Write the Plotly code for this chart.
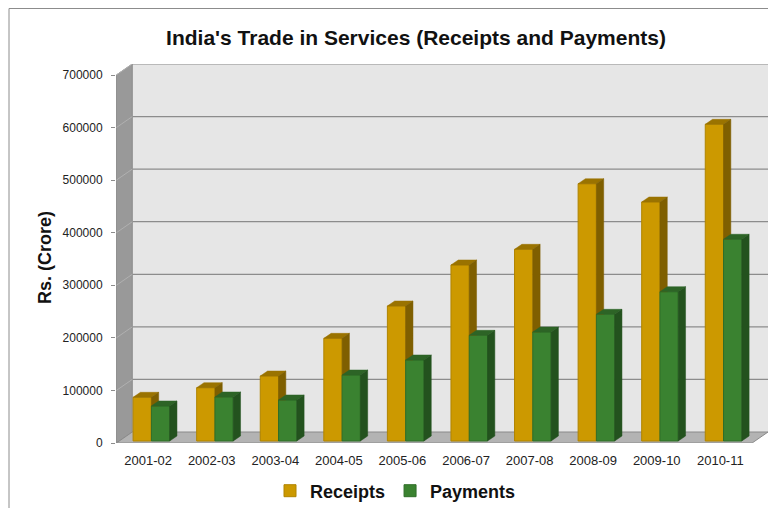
import plotly.graph_objects as go

# ---- data ----
categories = ["2001-02", "2002-03", "2003-04", "2004-05", "2005-06",
              "2006-07", "2007-08", "2008-09", "2009-10", "2010-11"]
receipts = [83100, 101400, 123600, 195300, 256800, 334800, 364600, 489400, 454600, 602400]
payments = [66600, 83700, 78000, 125500, 154100, 201000, 207300, 241000, 284000, 383700]
y_tick_values = [0, 100000, 200000, 300000, 400000, 500000, 600000, 700000]
y_tick_labels = [str(v) for v in y_tick_values]

# ---- 3D-look geometry (axis units) ----
N = len(categories)
Y_MAX = 700000
PLOT_H = 379                      # px
FRONT_H = 368                     # px for 0..Y_MAX on the front axis
Y_TOP = Y_MAX * PLOT_H / FRONT_H
WALL_DY = Y_TOP - Y_MAX           # depth offset of back wall (value units)
WALL_DX = 0.25                    # depth offset of back wall (category units)
PX_PER_VAL = FRONT_H / Y_MAX
BAR_W = 0.2875
R_OFF = -0.237
P_OFF = R_OFF + BAR_W
BASE = 2 / PX_PER_VAL             # bars stand a little back on the floor
DXB = 0.115                       # bar depth (x)
DYB = 5 / PX_PER_VAL              # bar depth (y)
X_LO, X_HI = -0.5, N - 0.5

R_FRONT, R_TOP, R_SIDE, R_EDGE = "#CC9900", "#9A7300", "#7F5F00", "#B08400"
P_FRONT, P_TOP, P_SIDE, P_EDGE = "#3A8230", "#2D6426", "#23521E", "#2F6E28"

# page has an 8px body margin: figure is 770x500 placed at (8, 8)
W, H = 770, 500
ML, MT = 108, 56
PW, PH = 652, 379


def px_x(page_x):
    return (page_x - 8 - ML) / PW


def px_y(page_y):
    return (MT + PH - (page_y - 8)) / PH


fig = go.Figure()

fig.add_trace(go.Bar(
    name="Receipts", x=list(range(N)), y=receipts, base=BASE,
    offset=R_OFF, width=BAR_W,
    marker=dict(color=R_FRONT, line=dict(color=R_EDGE, width=1)),
))
fig.add_trace(go.Bar(
    name="Payments", x=list(range(N)), y=payments, base=BASE,
    offset=P_OFF, width=BAR_W,
    marker=dict(color=P_FRONT, line=dict(color=P_EDGE, width=1)),
))


def top_faces(vals, off):
    xs, ys = [], []
    for i, v in enumerate(vals):
        xl = i + off
        xr = xl + BAR_W
        yt = BASE + v
        xs += [xl, xr, xr + DXB, xl + DXB, xl, None]
        ys += [yt, yt, yt + DYB, yt + DYB, yt, None]
    return xs, ys


def side_faces(vals, off, hide=None):
    xs, ys = [], []
    for i, v in enumerate(vals):
        xr = i + off + BAR_W
        yt = BASE + v
        yb = BASE
        if hide is not None:
            yb = min(BASE + hide[i], yt)
            if yb >= yt:
                continue
        xs += [xr, xr, xr + DXB, xr + DXB, xr, None]
        if hide is None:
            ys += [yb, yt, yt + DYB, yb + DYB, yb, None]
        else:
            ys += [yb, yt, yt + DYB, yb, yb, None]
    return xs, ys


for (xs, ys), col in [
    (top_faces(receipts, R_OFF), R_TOP),
    (side_faces(receipts, R_OFF, hide=payments), R_SIDE),
    (top_faces(payments, P_OFF), P_TOP),
    (side_faces(payments, P_OFF), P_SIDE),
]:
    fig.add_trace(go.Scatter(
        x=xs, y=ys, mode="lines", fill="toself", fillcolor=col,
        line=dict(color=col, width=0.5), showlegend=False, hoverinfo="skip",
    ))

# ---- walls, floor and gridlines ----
shapes = []
shapes.append(dict(type="rect", xref="x", yref="y", layer="below",
                   x0=X_LO + WALL_DX, x1=X_HI + WALL_DX, y0=WALL_DY, y1=Y_MAX + WALL_DY,
                   fillcolor="#E6E6E6", line=dict(width=0)))
shapes.append(dict(type="path", xref="x", yref="y", layer="below",
                   path=f"M{X_LO},0 L{X_LO},{Y_MAX} L{X_LO + WALL_DX},{Y_MAX + WALL_DY} "
                        f"L{X_LO + WALL_DX},{WALL_DY} Z",
                   fillcolor="#999999", line=dict(color="#8A8A8A", width=1)))
shapes.append(dict(type="path", xref="x", yref="y", layer="below",
                   path=f"M{X_LO},0 L{X_HI},0 L{X_HI + WALL_DX},{WALL_DY} "
                        f"L{X_LO + WALL_DX},{WALL_DY} Z",
                   fillcolor="#B3B3B3", line=dict(color="#8A8A8A", width=1)))
for v in y_tick_values[1:]:
    shapes.append(dict(type="line", xref="x", yref="y", layer="below",
                       x0=X_LO + WALL_DX, x1=X_HI + WALL_DX, y0=v + WALL_DY, y1=v + WALL_DY,
                       line=dict(color="#8C8C8C", width=1.2)))
    shapes.append(dict(type="line", xref="x", yref="y", layer="below",
                       x0=X_LO, x1=X_LO + WALL_DX, y0=v, y1=v + WALL_DY,
                       line=dict(color="#B0B0B0", width=1)))
# outer chart border (left and top)
top_line = (MT + PH - 0.5) / PH
shapes.append(dict(type="line", xref="paper", yref="paper",
                   x0=px_x(9), x1=px_x(9), y0=-0.2, y1=top_line,
                   line=dict(color="#8C8C8C", width=1)))
shapes.append(dict(type="line", xref="paper", yref="paper",
                   x0=px_x(9), x1=px_x(768), y0=top_line, y1=top_line,
                   line=dict(color="#8C8C8C", width=1)))

fig.update_layout(
    width=W, height=H,
    margin=dict(l=ML, r=W - ML - PW, t=MT, b=H - MT - PH, autoexpand=False),
    paper_bgcolor="white", plot_bgcolor="white",
    barmode="overlay",
    font=dict(family="Liberation Sans, Arial, sans-serif", color="#1A1A1A"),
    shapes=shapes,
    title=dict(text="India's Trade in Services (Receipts and Payments)",
               x=(416 - 8) / W, xanchor="center", y=1 - (38 - 8) / H, yanchor="middle",
               font=dict(size=21, weight="bold", color="#111111")),
    showlegend=True,
    legend=dict(orientation="h", x=px_x(270), xanchor="left",
                y=px_y(491), yanchor="middle",
                font=dict(size=18, weight="bold", color="#111111"),
                bgcolor="rgba(0,0,0,0)", itemwidth=30),
    annotations=[dict(text="Rs. (Crore)", xref="paper", yref="paper",
                      x=px_x(45), y=px_y(258), textangle=-90,
                      xanchor="center", yanchor="middle", showarrow=False,
                      font=dict(size=18, weight="bold", color="#111111"))],
)
fig.update_xaxes(range=[X_LO - 0.006, X_HI + WALL_DX], tickvals=list(range(N)),
                 ticktext=categories, showgrid=False, zeroline=False, showline=False,
                 ticks="", ticklabelstandoff=8,
                 tickfont=dict(size=13, color="#222222"), fixedrange=True)
fig.update_yaxes(range=[0, Y_TOP], tickvals=y_tick_values, ticktext=y_tick_labels,
                 showgrid=False, zeroline=False, showline=False,
                 ticks="outside", ticklen=4, tickcolor="#8C8C8C",
                 ticklabelstandoff=6,
                 tickfont=dict(size=12, color="#222222"), fixedrange=True)

fig.write_html("out.html")
